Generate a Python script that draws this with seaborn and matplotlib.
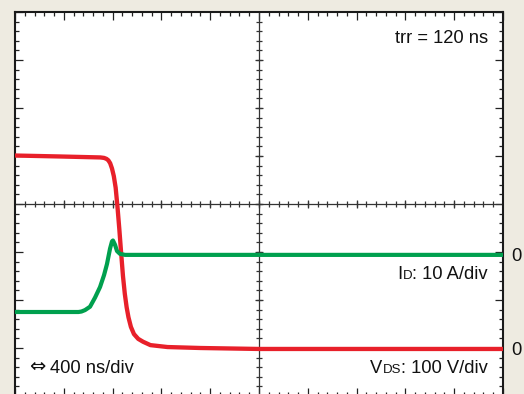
import numpy as np
import pandas as pd
import matplotlib
matplotlib.use("Agg")
import matplotlib.pyplot as plt
import seaborn as sns

# ---- data ----
# time in ns (400 ns/div), VDS in V (100 V/div), ID in A (10 A/div)
vds_t = [0, 370, 700, 730, 750, 765, 780, 795, 810, 825, 840, 855, 870, 885,
         900, 915, 930, 950, 975, 1010, 1050, 1110, 1250, 1520, 2000, 4000]
vds_v = [403, 401, 399, 398, 396, 393, 387, 376, 360, 336, 296, 250, 200, 152,
         115, 87, 66, 46, 31, 21, 15, 8, 4, 2, 0, 0]
id_t = [0, 520, 545, 574, 615, 656, 697, 730, 754, 779, 795, 803, 820, 836, 861, 902, 4000]
id_a = [-11.9, -11.9, -11.8, -11.5, -10.8, -8.9, -6.7, -4.2, -1.9, 1.3, 2.8, 3.0, 2.1,
        0.8, 0.2, 0.0, 0.0]

t_per_div = 400.0
v_per_div = 100.0
a_per_div = 10.0
vds_zero_div = 0.98
id_zero_div = 2.94

label_trr = "trr = 120 ns"
label_arrow = "\u21d4"
label_time = "400 ns/div"

# ---- style ----
sns.set_style("white")
plt.rcParams["font.family"] = ["Liberation Sans", "DejaVu Sans"]

W, H = 524, 394
fig = plt.figure(figsize=(W / 100, H / 100), dpi=100)
bg = "#EEEBE1"
fig.patch.set_facecolor(bg)

ax = fig.add_axes([15 / W, (394 - 396) / H, 488 / W, 384 / H])
ax.set_facecolor("white")

df_v = pd.DataFrame({"x": np.array(vds_t) / t_per_div,
                     "y": vds_zero_div + np.array(vds_v) / v_per_div})
df_i = pd.DataFrame({"x": np.array(id_t) / t_per_div,
                     "y": id_zero_div + np.array(id_a) / a_per_div})

sns.lineplot(data=df_v, x="x", y="y", ax=ax, color="#E8202A", linewidth=3.1,
             sort=False, estimator=None, zorder=3,
             solid_joinstyle="round", solid_capstyle="butt")
sns.lineplot(data=df_i, x="x", y="y", ax=ax, color="#00A04E", linewidth=3.0,
             sort=False, estimator=None, zorder=4,
             solid_joinstyle="round", solid_capstyle="butt")

ax.set_xlim(0, 10)
ax.set_ylim(0, 8)
ax.set_xlabel("")
ax.set_ylabel("")

# border ticks
ax.set_xticks(np.arange(0, 11, 1))
ax.set_yticks(np.arange(0, 9, 1))
ax.set_xticks(np.arange(0, 10.01, 0.2), minor=True)
ax.set_yticks(np.arange(0, 8.01, 0.2), minor=True)
ax.tick_params(which="both", direction="in", top=True, right=True,
               bottom=True, left=True, labelbottom=False, labelleft=False,
               color="#222222")
ax.tick_params(which="major", length=5.8, width=0.9)
ax.tick_params(which="minor", length=3.2, width=0.9)
for s in ax.spines.values():
    s.set_linewidth(1.5)
    s.set_color("#1a1a1a")

# center crosshair with ticks
ax.axvline(5, color="#333333", lw=0.9, zorder=2)
ax.axhline(4, color="#333333", lw=0.9, zorder=2)
xs_minor = np.arange(0.2, 10, 0.2)
ys_minor = np.arange(0.2, 8, 0.2)
ax.plot(xs_minor, np.full_like(xs_minor, 4), ls="none", marker="|", ms=3.8,
        mew=0.9, color="#333333", zorder=2)
ax.plot(np.full_like(ys_minor, 5), ys_minor, ls="none", marker="_", ms=4.3,
        mew=0.9, color="#333333", zorder=2)
xs_major = np.arange(1, 10, 1)
ys_major = np.arange(1, 8, 1)
ax.plot(xs_major, np.full_like(xs_major, 4.0), ls="none", marker="|", ms=5.2,
        mew=0.9, color="#333333", zorder=2)
ax.plot(np.full_like(ys_major, 5.0), ys_major, ls="none", marker="_", ms=5.5,
        mew=0.9, color="#333333", zorder=2)

# ---- texts ----
fs = 13.2
def fx(x):
    return x / W
def fy(y):
    return 1 - y / H

fig.text(fx(488), fy(42.7), label_trr, ha="right", va="baseline", fontsize=fs,
         color="#111111")
fig.text(fx(29.5), fy(372), label_arrow, ha="left", va="baseline", fontsize=14,
         color="#111111", family="DejaVu Sans")
fig.text(fx(49.5), fy(373), label_time, ha="left", va="baseline", fontsize=fs,
         color="#111111")

def sub_label(main, sub, rest, x_right, y_base):
    t_rest = fig.text(fx(x_right), fy(y_base), rest, ha="right", va="baseline",
                      fontsize=fs, color="#111111")
    t_sub = fig.text(0, 0, sub, ha="right", va="baseline", fontsize=fs * 0.72,
                     color="#111111")
    fig.canvas.draw()
    r = fig.canvas.get_renderer()
    bb = t_rest.get_window_extent(r)
    t_sub.set_position((bb.x0 / W, fy(y_base)))
    bb2 = t_sub.get_window_extent(r)
    fig.text(bb2.x0 / W, fy(y_base), main, ha="right", va="baseline",
             fontsize=fs, color="#111111")

sub_label("I", "D", ": 10 A/div", 488, 279)
sub_label("V", "DS", ": 100 V/div", 488, 373)

fig.text(fx(516.5), fy(260.7), "0", ha="center", va="baseline", fontsize=fs,
         color="#111111")
fig.text(fx(516.5), fy(354.7), "0", ha="center", va="baseline", fontsize=fs,
         color="#111111")

fig.savefig("out.png", dpi=100, facecolor=bg)
